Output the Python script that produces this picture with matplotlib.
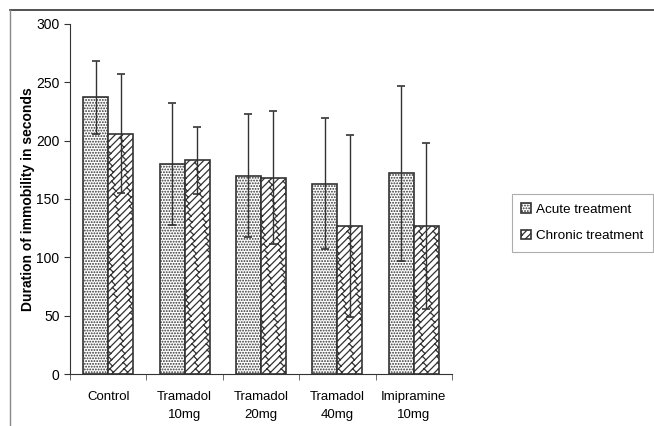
import warnings
import matplotlib as mpl
import matplotlib.pyplot as plt
import matplotlib.hatch as mhatch
from matplotlib.path import Path
import numpy as np

warnings.filterwarnings('ignore')
plt.rcParams['font.family'] = ['Liberation Sans', 'DejaVu Sans']
plt.rcParams['hatch.linewidth'] = 0.9


class BrickHatch(mhatch.HatchPatternBase):
    # diagonal brick pattern, used when the hatch string contains 'b'
    def __init__(self, hatch, density):
        self.n = 14 if 'b' in hatch else 0
        self.m = 8
        if self.n:
            self.num_lines = 2 * self.n + 1
            self.num_segs = 2 * self.n * (self.m + 2)
            self.num_vertices = 2 * (self.num_lines + self.num_segs)
        else:
            self.num_vertices = 0

    def set_vertices_and_codes(self, vertices, codes):
        n, m = self.n, self.m
        pts = []
        for i in range(-n, n + 1):
            pts += [(i / n, 0.0), (i / n + 1, 1.0)]
        for i in range(-n, n):
            a = i / n
            for k in range(-1, m + 1):
                y0 = k / m + (i % 2) * 0.5 / m
                pts += [(a + y0, y0), (a + y0 + 0.5 / n, y0 - 0.5 / n)]
        vertices[:] = np.array(pts)
        codes[0::2] = Path.MOVETO
        codes[1::2] = Path.LINETO


mhatch._hatch_types.append(BrickHatch)

groups = ["Control", "Tramadol\n10mg", "Tramadol\n20mg", "Tramadol\n40mg", "Imipramine\n10mg"]
acute_mean = [237, 180, 170, 163, 172]
acute_err = [31, 52, 53, 56, 75]
chronic_mean = [206, 183, 168, 127, 127]
chronic_err = [51, 29, 57, 78, 71]

fig = plt.figure(figsize=(6.54, 4.26), dpi=100)
ax = fig.add_axes([0.107, 0.122, 0.584, 0.822])

x = np.arange(len(groups))
w = 0.327
ax.bar(x - w/2, acute_mean, w, color='white', edgecolor='#333333', hatch='......',
       linewidth=1.2, label='Acute treatment')
ax.bar(x + w/2, chronic_mean, w, color='white', edgecolor='#333333', hatch='b',
       linewidth=1.2, label='Chronic treatment')
ax.errorbar(x - w/2, acute_mean, yerr=acute_err, fmt='none', ecolor='#333333',
            elinewidth=1.0, capsize=3, capthick=1.2)
ax.errorbar(x + w/2, chronic_mean, yerr=chronic_err, fmt='none', ecolor='#333333',
            elinewidth=1.0, capsize=3, capthick=1.2)

ax.set_xlim(-0.5, len(groups) - 0.5)
ax.set_ylim(0, 300)
ax.set_yticks(range(0, 301, 50))
ax.set_xticks(x)
ax.set_xticklabels(groups, fontsize=9.5, linespacing=1.75)
ax.tick_params(axis='x', length=0, pad=12)
ax.set_xticks(np.arange(-0.5, len(groups)), minor=True)
ax.tick_params(axis='x', which='minor', length=4, color='#555555')
ax.tick_params(axis='y', labelsize=10, length=4, color='#333333')
ax.spines['top'].set_visible(False)
ax.spines['right'].set_visible(False)
ax.spines['left'].set_color('#333333')
ax.spines['bottom'].set_color('#333333')
ax.set_ylabel('Duration of immobility in seconds', fontsize=10, fontweight='bold', labelpad=1)

leg = fig.legend(loc='upper left', bbox_to_anchor=(512/654, 1 - 194/426), fontsize=9.7,
                 frameon=True, fancybox=False, edgecolor='#999999', handlelength=0.7,
                 handleheight=0.7, handletextpad=0.4, borderpad=0.7, labelspacing=1.05,
                 borderaxespad=0)
leg.get_frame().set_linewidth(0.8)

# outer frame (top and left only)
fig.add_artist(mpl.lines.Line2D([10/654, 1], [1 - 10/426, 1 - 10/426],
                                transform=fig.transFigure, color='#333333', lw=1.2))
fig.add_artist(mpl.lines.Line2D([10/654, 10/654], [0, 1 - 10/426],
                                transform=fig.transFigure, color='#888888', lw=1.0))

fig.savefig('out.png', dpi=100)
